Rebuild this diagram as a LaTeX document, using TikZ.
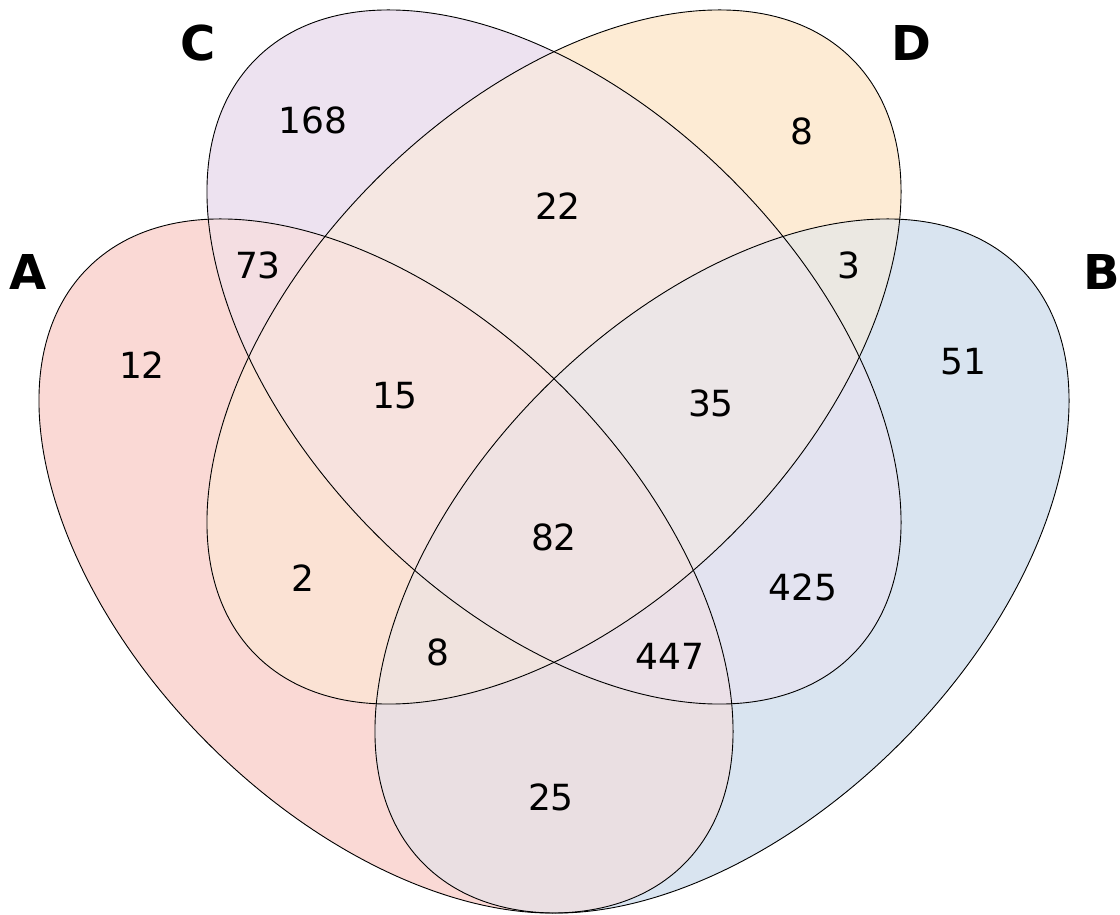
\documentclass[tikz,border=0pt]{standalone}
\usepackage{fontspec}
\setmainfont{DejaVu Sans}
\definecolor{colA}{RGB}{250,217,213}
\definecolor{colB}{RGB}{217,228,240}
\definecolor{colC}{RGB}{237,226,240}
\definecolor{colD}{RGB}{253,235,212}
\colorlet{colAB}{colA!50!colB}
\colorlet{colAC}{colA!50!colC}
\colorlet{colAD}{colA!50!colD}
\colorlet{colBC}{colB!50!colC}
\colorlet{colBD}{colB!50!colD}
\colorlet{colCD}{colC!50!colD}
\colorlet{colABC}{colAB!67!colC}
\colorlet{colABD}{colAB!67!colD}
\colorlet{colACD}{colAC!67!colD}
\colorlet{colBCD}{colBC!67!colD}
\colorlet{colABCD}{colABC!75!colD}
\newcommand{\ClipE}[3]{\clip[rotate around={#1:(#2,#3)}] (#2,#3) ellipse [x radius=421.5, y radius=251.3];}
\newcommand{\FillE}[4]{\fill[#4, rotate around={#1:(#2,#3)}] (#2,#3) ellipse [x radius=421.5, y radius=251.3];}
\newcommand{\DrawE}[3]{\draw[outline, rotate around={#1:(#2,#3)}] (#2,#3) ellipse [x radius=421.5, y radius=251.3];}
\newcommand{\clipA}{\ClipE{-45}{386}{348}}
\newcommand{\clipB}{\ClipE{45}{722}{348}}
\newcommand{\clipC}{\ClipE{-45}{554}{557}}
\newcommand{\clipD}{\ClipE{45}{554}{557}}
\newcommand{\fillA}[1]{\FillE{-45}{386}{348}{#1}}
\newcommand{\fillB}[1]{\FillE{45}{722}{348}{#1}}
\newcommand{\fillC}[1]{\FillE{-45}{554}{557}{#1}}
\newcommand{\fillD}[1]{\FillE{45}{554}{557}{#1}}
\tikzset{
  outline/.style={draw=black, line width=0.9pt},
  num/.style={font=\fontsize{36}{40}\selectfont, inner sep=0pt},
  setlabel/.style={font=\fontsize{48}{52}\selectfont\bfseries, inner sep=0pt}
}
\begin{document}
\begin{tikzpicture}[x=1pt,y=1pt]
\useasboundingbox (0,0) rectangle (1120,914);
% singles
\fillA{colA}
\fillB{colB}
\fillC{colC}
\fillD{colD}
% pairs
\begin{scope}\clipA\fillB{colAB}\end{scope}
\begin{scope}\clipA\fillC{colAC}\end{scope}
\begin{scope}\clipA\fillD{colAD}\end{scope}
\begin{scope}\clipB\fillC{colBC}\end{scope}
\begin{scope}\clipB\fillD{colBD}\end{scope}
\begin{scope}\clipC\fillD{colCD}\end{scope}
% triples
\begin{scope}\clipA\clipB\fillC{colABC}\end{scope}
\begin{scope}\clipA\clipB\fillD{colABD}\end{scope}
\begin{scope}\clipA\clipC\fillD{colACD}\end{scope}
\begin{scope}\clipB\clipC\fillD{colBCD}\end{scope}
% quadruple
\begin{scope}\clipA\clipB\clipC\fillD{colABCD}\end{scope}
% outlines
\DrawE{-45}{386}{348}
\DrawE{45}{722}{348}
\DrawE{-45}{554}{557}
\DrawE{45}{554}{557}
% counts
\node[num] (n168) at (313,794) {168};
\node[num] (n22)  at (558,708) {22};
\node[num] (n8a)  at (802,783) {8};
\node[num] (n73)  at (258,649) {73};
\node[num] (n3)   at (849,649) {3};
\node[num] (n12)  at (142,549) {12};
\node[num] (n51)  at (963,552) {51};
\node[num] (n15)  at (395,518) {15};
\node[num] (n35)  at (711,511) {35};
\node[num] (n82)  at (554,377) {82};
\node[num] (n2)   at (303,336) {2};
\node[num] (n425) at (803,327) {425};
\node[num] (n8b)  at (438,262) {8};
\node[num] (n447) at (670,258) {447};
\node[num] (n25)  at (551,117) {25};
% set labels
\node[setlabel] (lA) at (28,642) {A};
\node[setlabel] (lB) at (1102,642) {B};
\node[setlabel] (lC) at (198,871) {C};
\node[setlabel] (lD) at (911,871) {D};
\end{tikzpicture}
\end{document}
